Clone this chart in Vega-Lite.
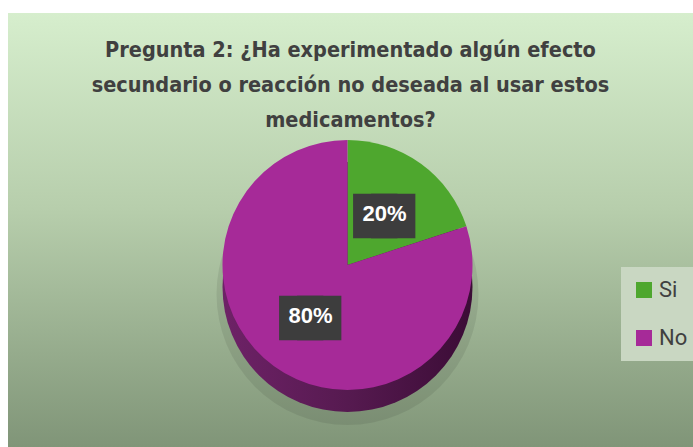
{
  "$schema": "https://vega.github.io/schema/vega-lite/v6.json",
  "width": 693,
  "height": 447,
  "autosize": {"type": "fit", "contains": "padding"},
  "padding": {"top": 13, "left": 8, "right": 0, "bottom": 0},
  "background": "#ffffff",
  "config": {
    "view": {"stroke": "#c3c3c3", "strokeWidth": 1.5},
    "legend": {
      "orient": "none",
      "legendX": 613,
      "legendY": 254,
      "fillColor": "#c9d7c2",
      "padding": 12,
      "rowPadding": 26,
      "symbolType": "square",
      "symbolSize": 256,
      "symbolStrokeWidth": 0,
      "labelFontSize": 22,
      "labelFont": "Roboto",
      "labelColor": "#404040",
      "labelOffset": 4
    }
  },
  "title": {
    "text": ["Pregunta 2: ¿Ha experimentado algún efecto", "secundario o reacción no deseada al usar estos", "medicamentos?"],
    "font": "DejaVu Sans Condensed, sans-serif",
    "fontSize": 21.5,
    "fontWeight": "bold",
    "color": "#404040",
    "anchor": "middle",
    "lineHeight": 35,
    "offset": -118
  },
  "data": {"values": [
    {"respuesta": "Si", "porcentaje": 0.2},
    {"respuesta": "No", "porcentaje": 0.8}
  ]},
  "layer": [
    {
      "transform": [{"filter": "datum.respuesta == 'No'"}],
      "mark": {"type": "rect",
        "fill": {"gradient": "linear", "x1": 0, "y1": 0, "x2": 0, "y2": 1,
          "stops": [{"offset": 0, "color": "#d6eecd"}, {"offset": 0.45, "color": "#b7ceac"}, {"offset": 1, "color": "#809578"}]}},
      "encoding": {}
    },
    {
      "transform": [{"filter": "datum.respuesta == 'No'"}],
      "mark": {"type": "arc", "outerRadius": 131, "xOffset": -3, "yOffset": 64, "fill": "#000000", "opacity": 0.08},
      "encoding": {}
    },
    {
      "transform": [{"filter": "datum.respuesta == 'No'"}],
      "mark": {"type": "arc", "outerRadius": 125, "xOffset": -3, "yOffset": 57,
        "fill": {"gradient": "linear", "x1": 0, "y1": 0, "x2": 1, "y2": 0,
          "stops": [{"offset": 0, "color": "#6e2267"}, {"offset": 0.5, "color": "#561a50"}, {"offset": 1, "color": "#3b0c36"}]}},
      "encoding": {}
    },
    {
      "mark": {"type": "arc", "outerRadius": 125, "xOffset": -3, "yOffset": 35, "strokeWidth": 0},
      "encoding": {
        "theta": {"field": "porcentaje", "type": "quantitative", "stack": true},
        "order": {"field": "respuesta", "sort": "descending"},
        "color": {"field": "respuesta", "type": "nominal", "title": null,
          "scale": {"domain": ["Si", "No"], "range": ["#4ea72e", "#a62a98"]}}
      }
    },
    {
      "mark": {"type": "text", "radius": 63, "xOffset": -3, "yOffset": 35, "dx": -9, "fontSize": 58, "font": "DejaVu Sans", "baseline": "middle", "fill": "#3d3d3d"},
      "encoding": {
        "theta": {"field": "porcentaje", "type": "quantitative", "stack": true},
        "order": {"field": "respuesta", "sort": "descending"},
        "text": {"value": "■"}
      }
    },
    {
      "mark": {"type": "text", "radius": 63, "xOffset": -3, "yOffset": 35, "dx": 9, "fontSize": 58, "font": "DejaVu Sans", "baseline": "middle", "fill": "#3d3d3d"},
      "encoding": {
        "theta": {"field": "porcentaje", "type": "quantitative", "stack": true},
        "order": {"field": "respuesta", "sort": "descending"},
        "text": {"value": "■"}
      }
    },
    {
      "mark": {"type": "text", "radius": 63, "xOffset": -3, "yOffset": 35, "fontSize": 22, "fontWeight": "bold", "font": "Liberation Sans", "baseline": "middle", "fill": "#ffffff"},
      "encoding": {
        "theta": {"field": "porcentaje", "type": "quantitative", "stack": true},
        "order": {"field": "respuesta", "sort": "descending"},
        "text": {"field": "porcentaje", "type": "quantitative", "format": ".0%"}
      }
    }
  ]
}
